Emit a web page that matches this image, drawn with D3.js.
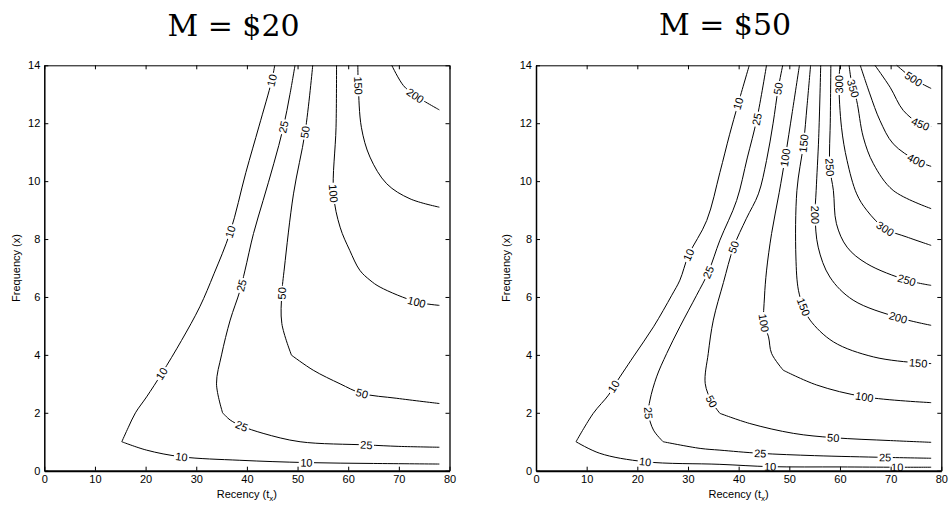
<!DOCTYPE html>
<html><head><meta charset="utf-8">
<script src="https://cdn.jsdelivr.net/npm/d3@7"></script>
<style>body{margin:0;background:#fff} svg{display:block}</style>
</head><body>
<svg id="chart" width="949" height="508"></svg>
<script>
// ---------- data ----------
const xTicks = [0,10,20,30,40,50,60,70,80];
const yTicks = [0,2,4,6,8,10,12,14];
const titles = ["M = $20", "M = $50"];
const xLabel = "Recency (t";
const xLabelSub = "x";
const yLabel = "Frequency (x)";

// contour lines, M = $20 : [recency, frequency]
const levels20 = [10,25,50,100,150,200];
const c20_10 = [[78,0.23],[65,0.25],[51.8,0.28],[38.6,0.36],[27.1,0.48],[20.2,0.71],[15.3,1.0],[16.6,1.5],[18.0,2.0],[20.2,2.55],[23.2,3.36],[27.1,4.5],[30.7,5.66],[33.5,6.8],[36.7,8.24],[39.8,10.3],[42.4,11.9],[44.9,13.47],[45.5,14]];
const c20_25 = [[78,0.81],[70,0.84],[63.6,0.89],[50.5,1.0],[43.2,1.29],[39,1.54],[36.7,1.75],[35.2,2.0],[34.0,3.0],[35.0,4.0],[36.7,5.2],[38.6,6.2],[39.6,6.9],[41.3,8.19],[43.2,9.33],[45.3,10.6],[47.2,11.86],[48.5,13],[49.5,14]];
const c20_50 = [[78,2.32],[69.6,2.5],[62.7,2.67],[58.4,3.0],[53.1,3.47],[48.8,3.99],[46.9,5.08],[46.9,6.12],[47.4,7.0],[49.2,9.56],[51.5,11.7],[53,14]];
const c20_100 = [[78,5.71],[73.5,5.83],[66.3,6.34],[64.3,6.58],[62.3,6.92],[60.3,7.61],[58.4,8.41],[57.1,9.56],[57.6,11.86],[57.7,14]];
const c20_150 = [[78,9.1],[72.2,9.39],[67.6,9.91],[64.3,10.83],[62.6,11.86],[62.0,13.3],[61.9,14]];
const c20_200 = [[78,12.46],[73.2,12.96],[70.9,13.3],[68.6,14]];
const lab20 = [[10,23.2,3.36],[10,27.1,0.48],[10,51.8,0.28],[10,36.7,8.24],[10,44.9,13.47],
  [25,39.2,6.4],[25,47.2,11.86],[25,39,1.54],[25,63.6,0.89],
  [50,46.9,6.12],[50,51.5,11.7],[50,62.7,2.67],
  [100,57.1,9.56],[100,73.5,5.83],[150,62.0,13.3],[200,73.2,12.96]];

// contour lines, M = $50
const levels50 = [10,25,50,100,150,200,250,300,350,400,450,500];
const c50_10 = [[78,0.12],[71.2,0.12],[60,0.13],[46.2,0.14],[36.3,0.22],[21.5,0.31],[12.6,0.6],[7.9,1.0],[11.3,1.98],[14.3,2.61],[15.3,2.9],[19.2,3.93],[23.2,4.97],[26.8,6.06],[28.4,6.58],[30.1,7.44],[33.7,8.64],[36.3,10.3],[38.2,11.6],[39.9,12.67],[42.1,14]];
const c50_25 = [[78,0.43],[68.9,0.46],[55,0.52],[44.2,0.6],[36.3,0.71],[32.4,0.77],[25.1,1.0],[23.2,1.4],[22.2,1.98],[22.5,2.44],[23.8,3.24],[25.8,4.05],[28.4,4.97],[31.7,6.06],[34.0,6.85],[36.3,7.96],[39.6,9.33],[41.7,10.8],[43.6,12.15],[45.5,14]];
const c50_50 = [[78,0.98],[70,1.04],[58.7,1.14],[50.8,1.29],[42.2,1.63],[36.3,1.98],[34.7,2.38],[33.4,3.01],[34.0,4.05],[35.0,5.2],[37.0,6.5],[39.0,7.72],[41.5,8.7],[43.9,9.56],[45.5,10.71],[46.8,12],[47.8,13.19],[48.7,14]];
const c50_100 = [[78,2.35],[64.9,2.55],[55.4,2.96],[48.8,3.47],[46.5,4.05],[45.9,4.62],[45.0,5.1],[45.1,6.0],[45.5,6.9],[46.5,8.19],[48.0,9.6],[49.2,10.83],[50.6,12.4],[52.0,14]];
const c50_150 = [[78,3.7],[75.5,3.72],[66.6,3.93],[58.7,4.45],[54.1,5.2],[52.8,5.66],[51.8,6.23],[51.3,7.38],[51.5,9.68],[52.8,11.29],[53.5,12.6],[54.2,14]];
const c50_200 = [[78,5.02],[71.5,5.29],[62.6,5.89],[58.0,6.69],[55.7,7.72],[55.1,8.82],[55.3,9.68],[55.8,11.5],[56.2,14]];
const c50_250 = [[78,6.4],[73.2,6.58],[65.3,7.15],[61.4,7.72],[59.3,8.53],[58.7,9.68],[58.0,10.48],[58.1,12.2],[58.2,14]];
const c50_300 = [[78,7.78],[73.2,8.07],[68.9,8.36],[65.3,8.99],[63.3,9.56],[61.4,10.71],[60.3,11.86],[59.8,13.36],[60.0,14]];
const c50_350 = [[78,9.05],[70.5,9.68],[66.6,10.6],[64.6,11.52],[63.3,12.78],[62.3,13.4],[61.8,14]];
const c50_400 = [[78,10.51],[75.1,10.71],[70.5,11.29],[67.9,12.09],[65.9,13.01],[64.0,14]];
const c50_450 = [[78,11.89],[75.8,11.98],[72.5,12.44],[69.9,13.24],[66.9,14]];
const c50_500 = [[78,13.2],[74.5,13.53],[71.2,14]];
const lab50 = [[10,15.3,2.9],[10,30.1,7.44],[10,39.9,12.67],[10,21.5,0.31],[10,46.2,0.14],[10,71.2,0.12],
  [25,22.2,1.98],[25,34.0,6.85],[25,43.6,12.15],[25,44.2,0.6],[25,68.9,0.46],
  [50,34.7,2.38],[50,39.0,7.72],[50,47.8,13.19],[50,58.7,1.14],
  [100,45.0,5.1],[100,49.2,10.83],[100,64.9,2.55],
  [150,52.8,5.66],[150,52.8,11.29],[150,75.5,3.72],
  [200,55.1,8.82],[200,71.5,5.29],[250,58.0,10.48],[250,73.2,6.58],
  [300,59.8,13.36],[300,68.9,8.36],[350,62.4,13.2],[400,75.1,10.71],[450,75.8,11.98],[500,74.5,13.53]];

// ---------- build ----------
const panels = [
  {title: titles[0], levels: levels20, lines: [c20_10,c20_25,c20_50,c20_100,c20_150,c20_200], labels: lab20,
   x0: 44.3, x1: 449.5, tx: 233.5, ty: 36, ylx: 20},
  {title: titles[1], levels: levels50, lines: [c50_10,c50_25,c50_50,c50_100,c50_150,c50_200,c50_250,c50_300,c50_350,c50_400,c50_450,c50_500], labels: lab50,
   x0: 536, x1: 941.3, tx: 725, ty: 35, ylx: 510}
];
const yBottom = 470.7, yTop = 65.3;
const svg = d3.select("#chart");
const FONT = "'Liberation Sans', Arial, Helvetica, sans-serif";

// split a pixel polyline at sharp vertices so the smooth curve keeps the corners
function splitAtCorners(px, thresholdDeg) {
  const pieces = [];
  let cur = [px[0]];
  for (let i = 1; i < px.length; i++) {
    cur.push(px[i]);
    if (i < px.length - 1) {
      const a1 = Math.atan2(px[i][1]-px[i-1][1], px[i][0]-px[i-1][0]);
      const a2 = Math.atan2(px[i+1][1]-px[i][1], px[i+1][0]-px[i][0]);
      let d = Math.abs(a2 - a1) * 180 / Math.PI;
      if (d > 180) d = 360 - d;
      if (d > thresholdDeg) { pieces.push(cur); cur = [px[i]]; }
    }
  }
  pieces.push(cur);
  return pieces;
}

panels.forEach(p => {
  const x = d3.scaleLinear().domain([0,80]).range([p.x0, p.x1]);
  const y = d3.scaleLinear().domain([0,14]).range([yBottom, yTop]);
  const g = svg.append("g");

  // title
  g.append("text").attr("x", p.tx).attr("y", p.ty).attr("text-anchor","middle")
    .attr("font-family","'DejaVu Serif', 'Liberation Serif', serif").attr("font-size", 30)
    .attr("fill","#000").text(p.title);

  // contour lines
  const line = d3.line().curve(d3.curveCatmullRom.alpha(0.5));
  const pixLines = {};
  p.lines.forEach((pts, i) => {
    const px = pts.map(d => [x(d[0]), y(d[1])]);
    const pieces = splitAtCorners(px, 30);
    const d = pieces.map(pc => line(pc)).join("");
    const path = g.append("path").attr("d", d).attr("fill","none").attr("stroke","#000").attr("stroke-width",1);
    const node = path.node(), L = node.getTotalLength();
    const samp = [];
    for (let s = 0; s <= L; s += 1) { const q = node.getPointAtLength(s); samp.push([q.x, q.y]); }
    pixLines[p.levels[i]] = samp;
  });

  // inline labels
  p.labels.forEach(([lev, r, f]) => {
    const pts = pixLines[lev];
    const px = x(r), py = y(f);
    let bi = 0, bd = Infinity;
    pts.forEach((q, i) => { const dd = (q[0]-px)**2 + (q[1]-py)**2; if (dd < bd) { bd = dd; bi = i; } });
    const i0 = Math.max(0, bi - 4), i1 = Math.min(pts.length - 1, bi + 4);
    let a = Math.atan2(pts[i1][1] - pts[i0][1], pts[i1][0] - pts[i0][0]) * 180 / Math.PI;
    if (a > 90) a -= 180;
    if (a <= -90) a += 180;
    const lg = g.append("g").attr("transform", `translate(${pts[bi][0]},${pts[bi][1]}) rotate(${a})`);
    const t = lg.append("text").attr("text-anchor","middle").attr("dy","0.36em")
      .attr("font-family", FONT).attr("font-size", 11).attr("fill","#000").text(lev);
    const w = t.node().getComputedTextLength();
    lg.insert("rect","text").attr("x", -w/2 - 1.5).attr("y", -4.5).attr("width", w + 3).attr("height", 9).attr("fill","#fff");
  });

  // axes
  const ax = (gen, tr) => g.append("g").attr("transform", tr).call(gen)
    .call(s => s.selectAll("text").attr("font-family", FONT).attr("font-size", 11).attr("fill","#000"))
    .call(s => s.selectAll("line,path").attr("stroke","#000"));
  const bottom = ax(d3.axisBottom(x).tickValues(xTicks).tickSizeInner(-4).tickSizeOuter(0).tickPadding(5), `translate(0,${yBottom})`);
  bottom.select(".domain").attr("stroke-width", 2);
  const left = ax(d3.axisLeft(y).tickValues(yTicks).tickSizeInner(-4).tickSizeOuter(0).tickPadding(4), `translate(${p.x0},0)`);
  left.select(".domain").attr("stroke-width", 1.5);
  ax(d3.axisTop(x).tickValues(xTicks).tickSizeInner(-4).tickSizeOuter(0).tickFormat(""), `translate(0,${yTop})`);
  const right = ax(d3.axisRight(y).tickValues(yTicks).tickSizeInner(-4).tickSizeOuter(0).tickFormat(""), `translate(${p.x1},0)`);
  right.select(".domain").attr("stroke-width", 1.3);

  // axis labels
  const xl = g.append("text").attr("x", (p.x0 + p.x1)/2).attr("y", 498).attr("text-anchor","middle")
    .attr("font-family", FONT).attr("font-size", 11).attr("fill","#000");
  xl.append("tspan").text(xLabel);
  xl.append("tspan").attr("dy", 3).attr("font-size", 8).text(xLabelSub);
  xl.append("tspan").attr("dy", -3).text(")");
  g.append("text").attr("transform", `translate(${p.ylx},${(yTop + yBottom)/2}) rotate(-90)`)
    .attr("text-anchor","middle").attr("font-family", FONT).attr("font-size", 11).attr("fill","#000").text(yLabel);
});
</script>
</body></html>
